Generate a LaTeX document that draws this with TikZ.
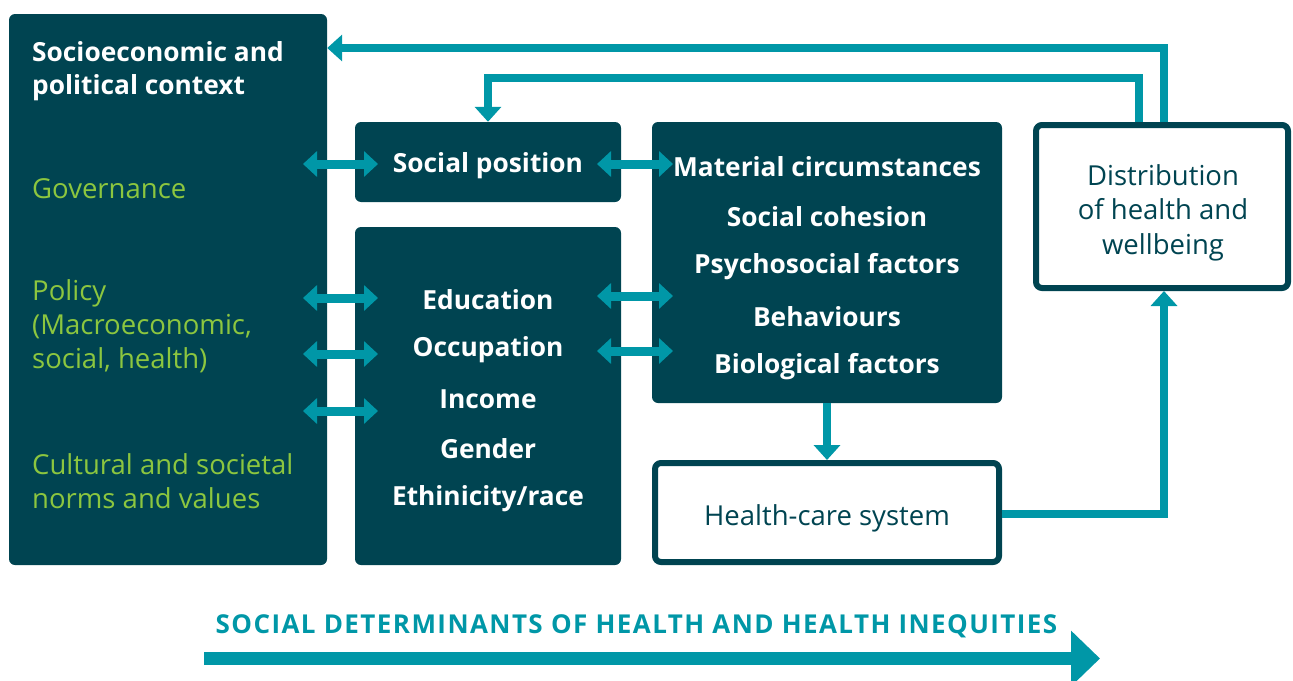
\documentclass[tikz,border=0pt]{standalone}
\usepackage{fontspec}
\setmainfont{Open Sans}
\usetikzlibrary{arrows.meta}
\definecolor{dk}{HTML}{004451}
\definecolor{tl}{HTML}{0097A7}
\definecolor{gr}{HTML}{8CC63F}
\tikzset{
  darkbox/.style={fill=dk, rounded corners=6pt, inner sep=0pt},
  whitebox/.style={draw=dk, fill=white, line width=6pt, rounded corners=6pt, inner sep=0pt},
  wt/.style={text=white, font=\fontsize{26.3}{33}\selectfont\bfseries, inner sep=0pt},
  gt/.style={text=gr, font=\fontsize{27.5}{34}\selectfont, inner sep=0pt, align=left, anchor=west},
  dt/.style={text=dk, font=\fontsize{27.5}{34.5}\selectfont, inner sep=0pt, align=center},
  dbl/.style={tl, line width=9pt, {Triangle[length=14pt,width=25pt]}-{Triangle[length=14pt,width=25pt]}},
  conn/.style={tl, line width=8pt, miter limit=10, -{Triangle[length=15pt,width=26pt]}},
}
\begin{document}
\begin{tikzpicture}[x=1pt,y=-1pt]
\useasboundingbox (0,0) rectangle (1293,680);
% boxes
\node[darkbox, minimum width=318pt, minimum height=551pt] (ctx) at (168,289.5) {};
\node[darkbox, minimum width=266pt, minimum height=80pt] (sp) at (488,162) {};
\node[darkbox, minimum width=266pt, minimum height=338pt] (edu) at (488,396) {};
\node[darkbox, minimum width=350pt, minimum height=281pt] (mat) at (827,262.5) {};
\node[whitebox, minimum width=344pt, minimum height=99pt] (hcs) at (827,512.5) {};
\node[whitebox, minimum width=252pt, minimum height=163pt] (dist) at (1162,206.5) {};
% texts left
\node[wt, anchor=west, align=left] (ctxt) at (32,71) {Socioeconomic and\\political context};
\node[gt] (gov) at (32,189) {Governance};
\node[gt] (pol) at (32,326) {Policy\\(Macroeconomic,\\social, health)};
\node[gt] (cul) at (32,481) {Cultural and societal\\norms and values};
% social position
\node[wt] (spt) at (488,166) {Social position};
\node[wt] (t1) at (488,300) {Education};
\node[wt] (t2) at (488,350) {Occupation};
\node[wt] (t3) at (488,399.5) {Income};
\node[wt] (t4) at (488,449) {Gender};
\node[wt] (t5) at (488,499) {Ethinicity/race};
\node[wt] (m1) at (827,167) {Material circumstances};
\node[wt] (m2) at (827,217) {Social cohesion};
\node[wt] (m3) at (827,267) {Psychosocial factors};
\node[wt] (m4) at (827,316.5) {Behaviours};
\node[wt] (m5) at (827,367) {Biological factors};
\node[dt] (hct) at (827,518) {Health-care system};
\node[dt] (dt) at (1163,212.5) {Distribution\\of health and\\wellbeing};
% double arrows
\coordinate (a1) at (303,164); \coordinate (b1) at (378,164);
\coordinate (a2) at (303,298); \coordinate (b2) at (378,298);
\coordinate (a3) at (303,354); \coordinate (b3) at (378,354);
\coordinate (a4) at (303,411); \coordinate (b4) at (378,411);
\coordinate (c1) at (597,164); \coordinate (d1) at (673,164);
\coordinate (c2) at (597,296); \coordinate (d2) at (673,296);
\coordinate (c3) at (597,351); \coordinate (d3) at (673,351);
\foreach \p/\q in {a1/b1,a2/b2,a3/b3,a4/b4,c1/d1,c2/d2,c3/d3}{\draw[dbl] (\p) -- (\q);}
% feedback connectors
\coordinate (f1) at (1164,122);
\coordinate (f2) at (1139,122);
\draw[conn] (f1) -- (1164,48) -- (ctx.east |- 0,48);
\draw[conn] (f2) -- (1139,78) -- (488,78) -- (sp.north);
\draw[conn] (mat.south) -- (hcs.north);
\draw[conn] (hcs.east |- 0,514) -- (1164,514) -- (1164,291);
% bottom arrow
\coordinate (s0) at (204,658.5); \coordinate (s1) at (1100,658.5);
\draw[tl, line width=13pt, -{Triangle[length=29pt,width=54pt]}] (s0) -- (s1);
\node[text=tl, font=\fontsize{26}{30}\selectfont\bfseries\addfontfeature{LetterSpace=5.5}, inner sep=0pt] (title) at (636.5,626) {SOCIAL DETERMINANTS OF HEALTH AND HEALTH INEQUITIES};
\end{tikzpicture}
\end{document}
